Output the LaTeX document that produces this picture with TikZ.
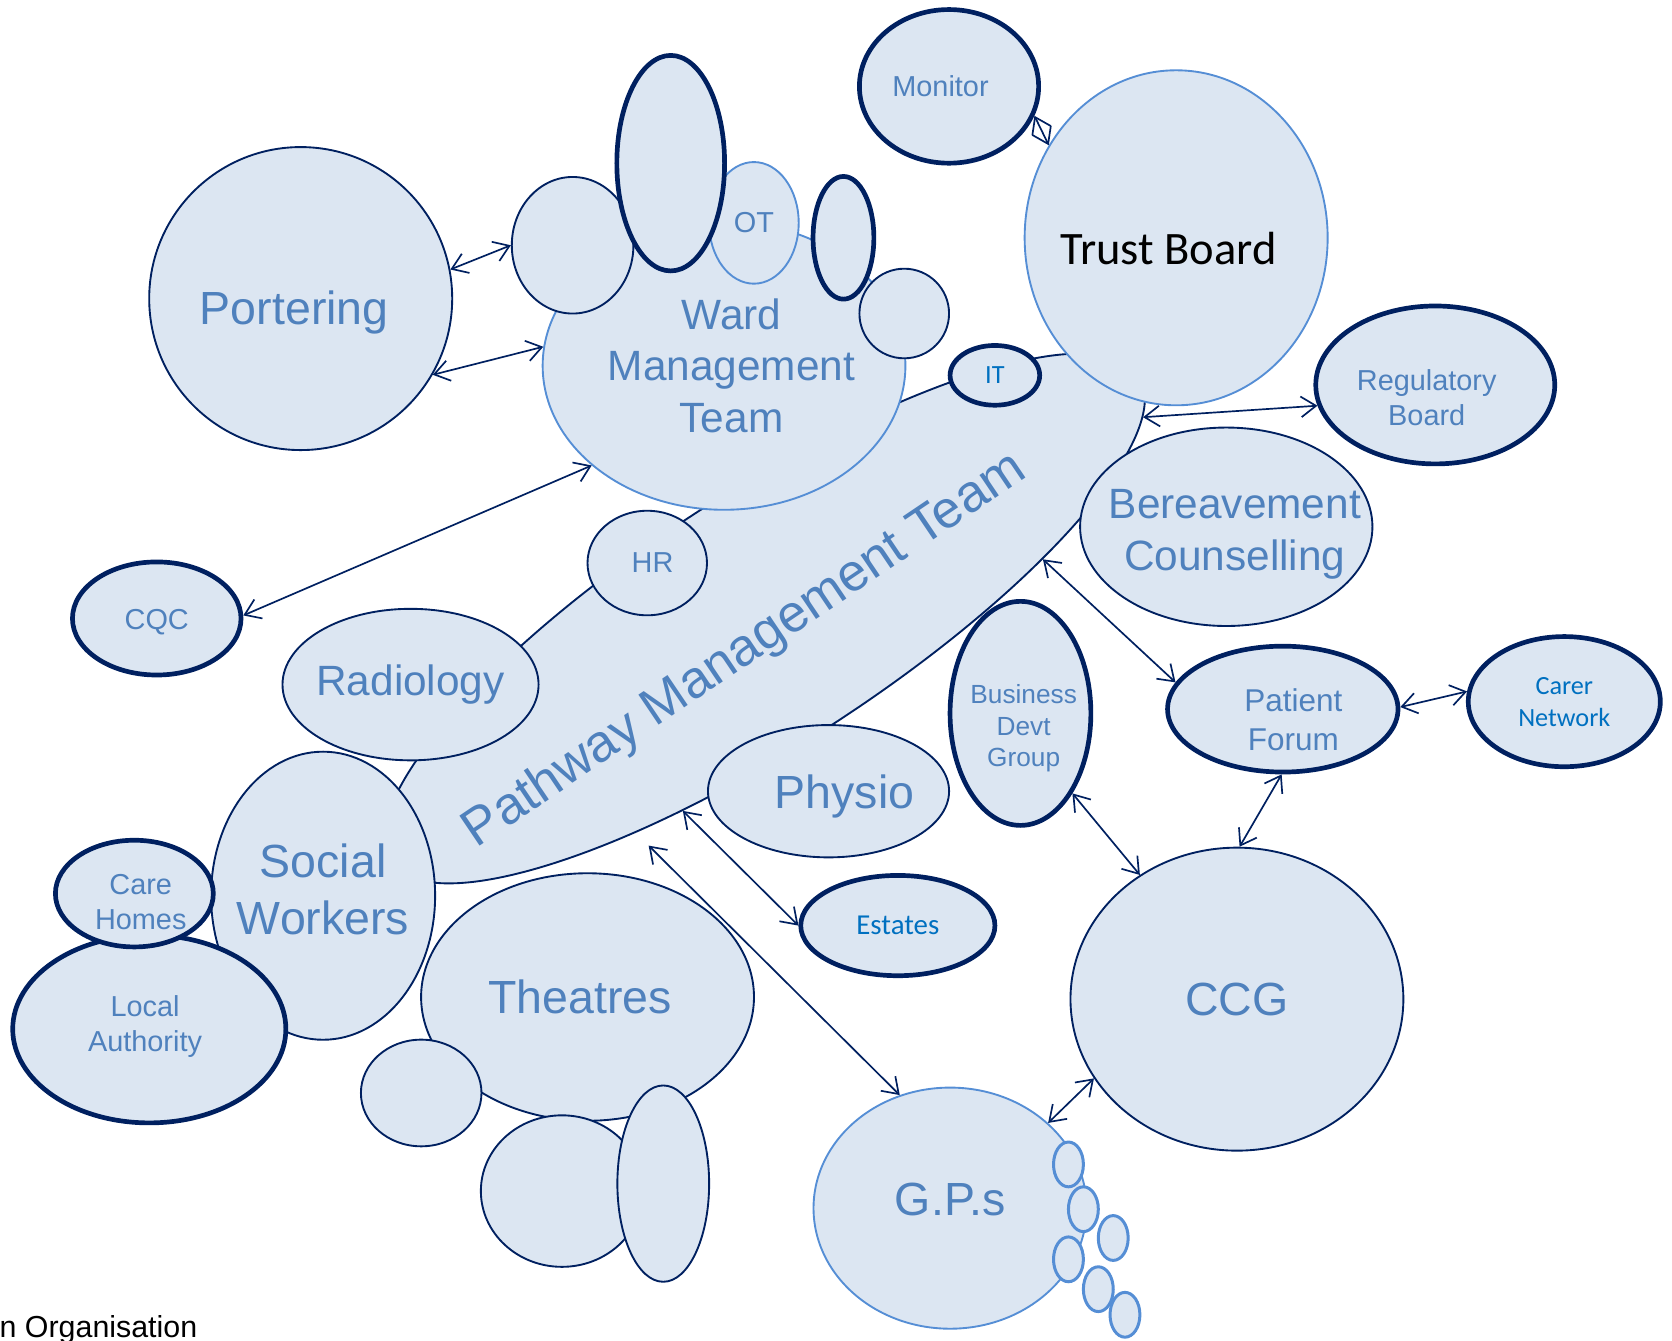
\documentclass[tikz,border=0pt]{standalone}
\usepackage{fontspec}
\setmainfont{Liberation Sans}
\newfontfamily\calibri{Carlito}
\usetikzlibrary{arrows.meta,shapes.geometric}
\definecolor{boxfill}{HTML}{DCE6F2}
\definecolor{navy}{HTML}{002060}
\definecolor{lineblue}{HTML}{558ED5}
\definecolor{txtblue}{HTML}{4F81BD}
\definecolor{deepblue}{HTML}{0070C0}
\tikzset{team/.style={ellipse,fill=boxfill,draw=navy,line width=.5pt,inner sep=0pt},
         partner/.style={team,line width=1.25pt},
         core/.style={team,draw=lineblue},
         bead/.style={core,line width=.8pt,minimum width=.28cm,minimum height=.42cm},
         link/.style={{Straight Barb[length=4pt,width=5.5pt]}-{Straight Barb[length=4pt,width=5.5pt]},navy,line width=.45pt},
         every label/.style={inner sep=0pt,align=center,text=txtblue},
         sz/.style 2 args={minimum width=#1cm,minimum height=#2cm},
         fs/.style 2 args={font=\fontsize{#1}{#2}\selectfont},
         cal/.style 2 args={font=\calibri\fontsize{#1}{#2}\selectfont},
         bigtxt/.style={fs={12.4}{15.1}},
         midtxt/.style={fs={11.3}{13.8}},
         smalltxt/.style={fs={7.7}{9.3}},
         tinytxt/.style={fs={7}{8.5}}}

\begin{document}
\begin{tikzpicture}[x=.01cm,y=-.01cm]
  \useasboundingbox (0,0) rectangle (1568,1257);

  \node[team,sz={8.36}{2.36},rotate=33,
        label={[rotate=34,fs={14}{16},xshift=-.32cm,yshift=-.15cm]center:Pathway Management Team}]
    (pathway) at (717,580) {};

  \node[team,sz={2.84}{2.84},label={[bigtxt,xshift=-.06cm,yshift=-.13cm]center:Portering}] (portering) at (282,280) {};
  \node[partner,sz={1.68}{1.44},label={[smalltxt,xshift=-.08cm]center:Monitor}] (monitor) at (890,81) {};
  \node[core,sz={2.84}{3.14},label={[cal={12.4}{15},text=black,xshift=-.07cm,yshift=-.1cm]center:Trust Board}] (trust) at (1103,223) {};
  \node[partner,sz={.84}{.56},label={[cal={7}{8.5},text=deepblue]center:IT}] (it) at (933,352) {};
  \node[partner,sz={2.24}{1.48},label={[smalltxt,xshift=-.08cm,yshift=-.12cm]center:Regulatory\\Board}] (regulatory) at (1346,361) {};
  \node[team,sz={2.74}{1.86},label={[midtxt,xshift=.08cm,yshift=-.07cm]center:Bereavement\\Counselling}] (bereavement) at (1150,494) {};
  \node[partner,sz={1.58}{1.06},label={[smalltxt,yshift=-.03cm]center:CQC}] (cqc) at (147,580) {};
  \node[team,sz={1.12}{.98},label={[smalltxt,xshift=.05cm]center:HR}] (hr) at (607,528) {};
  \node[team,sz={2.40}{1.42},label={[midtxt]center:Radiology}] (radiology) at (385,642) {};

  \node[core,sz={3.40}{2.70},label={[midtxt,xshift=.07cm]center:Ward\\Management\\Team}] (ward) at (679,343) {};
  \node[team,sz={1.14}{1.28}] (wardL) at (537,230) {};
  \node[core,sz={.84}{1.14},label={[smalltxt]center:OT}] (ot) at (707,209) {};
  \node[partner,sz={1.01}{2.02}] (wardTall) at (629,153) {};
  \node[team,sz={.84}{.84}] (wardR) at (848,294) {};
  \node[partner,sz={.57}{1.15}] (wardSlim) at (791,223) {};

  \node[team,sz={2.10}{2.70},label={[bigtxt,yshift=.06cm]center:Social\\Workers}] (social) at (303,840) {};
  \node[partner,sz={2.56}{1.76},label={[smalltxt,xshift=-.04cm,yshift=.02cm]center:Local\\Authority}] (local) at (140,965) {};
  \node[partner,sz={1.48}{1.00},label={[smalltxt,xshift=.06cm,yshift=-.08cm]center:Care\\Homes}] (care) at (126,838) {};

  \node[team,sz={3.12}{2.32},label={[bigtxt,xshift=-.07cm]center:Theatres}] (theatres) at (551,935) {};
  \node[team,sz={1.13}{1.00}] (theatresA) at (395,1025) {};
  \node[team,sz={1.52}{1.42}] (theatresB) at (527,1117) {};
  \node[team,sz={.86}{1.84}] (theatresC) at (622,1110) {};

  \node[team,sz={2.26}{1.24},label={[bigtxt,xshift=.15cm,yshift=-.05cm]center:Physio}] (physio) at (777,742) {};
  \node[partner,sz={1.32}{2.10},label={[tinytxt,xshift=.03cm,yshift=-.14cm]center:Business\\Devt\\Group}] (business) at (957,669) {};
  \node[partner,sz={1.82}{.94},label={[cal={7.7}{9.3},text=deepblue]center:Estates}] (estates) at (842,868) {};
  \node[partner,sz={2.16}{1.18},label={[fs={8.4}{10.2},xshift=.1cm,yshift=-.1cm]center:Patient\\Forum}] (patient) at (1203,665) {};
  \node[partner,sz={1.80}{1.22},label={[cal={7}{8.5},text=deepblue]center:Carer\\Network}] (carer) at (1467,658) {};
  \node[team,sz={3.12}{2.84},label={[bigtxt]center:CCG}] (ccg) at (1160,937) {};
  \node[core,sz={2.56}{2.26},label={[bigtxt,yshift=.08cm]center:G.P.s}] (gps) at (891,1133) {};
  \foreach \x/\y [count=\i] in {1002/1092,1016/1134,1044/1161,1002/1181,1030/1209,1055/1233}
    \node[bead] (gp\i) at (\x,\y) {};

  \draw[link] (portering.11) -- (wardL.180);
  \draw[link] (portering.330) -- (ward.174);
  \draw[link] (cqc.2) -- (ward.217);
  \draw[link] (monitor.341) -- (trust.144);
  \draw[link] (pathway.355) -- (regulatory.190);
  \draw[link] (pathway.339) -- (patient.166);
  \draw[link] (patient.1) -- (carer.174);
  \draw[link] (patient.269) -- (ccg.89);
  \draw[link] (business.303) -- (ccg.128);
  \draw[link] (ccg.209) -- (gps.41);
  \draw[link] (pathway.214) -- (estates.180);
  \draw[link,shorten <=.17cm] (pathway.206) -- (gps.114);

  \node[anchor=base west,inner sep=0pt,fs={8.1}{9.7}] (footer) at (-1,1254) {n Organisation};
\end{tikzpicture}
\end{document}
